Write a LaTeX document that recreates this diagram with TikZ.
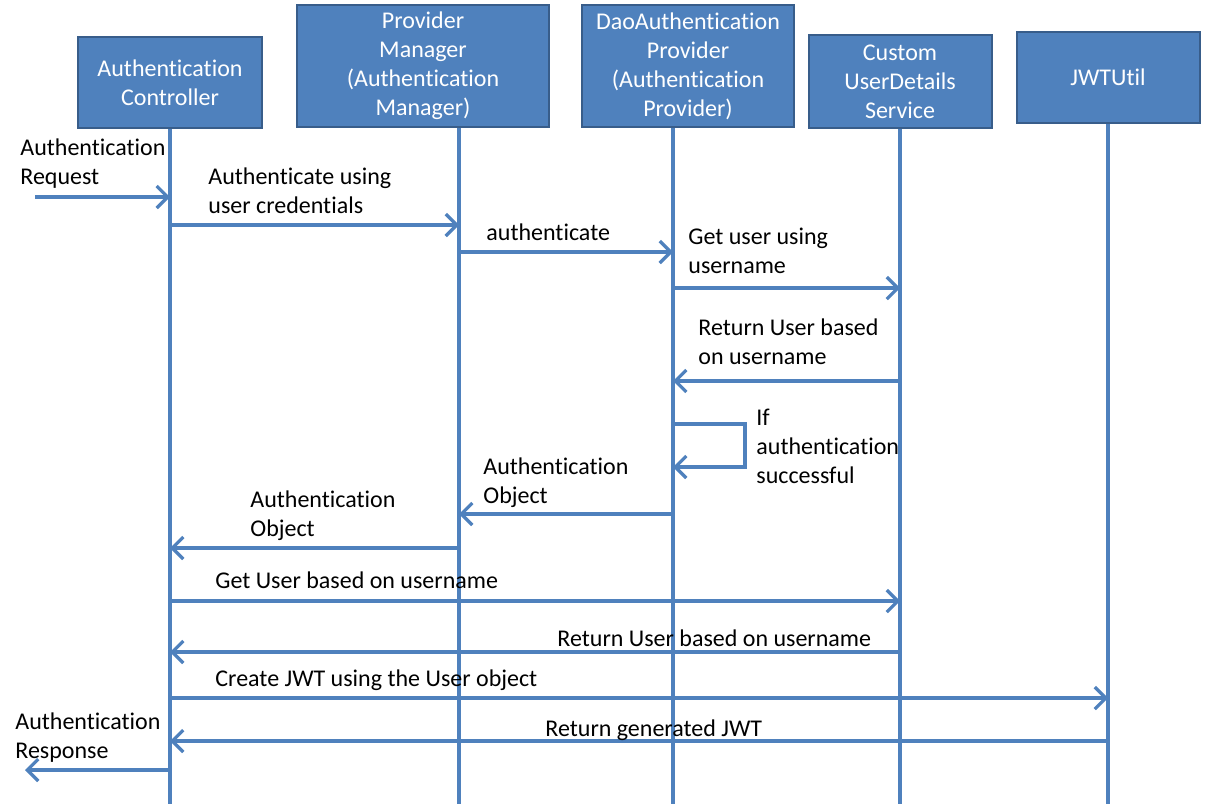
\documentclass[tikz,border=0pt]{standalone}
\usepackage{fontspec}
\setmainfont{Carlito}[Ligatures=CommonOff]
\usetikzlibrary{arrows.meta}
\definecolor{boxblue}{RGB}{79,129,189}
\definecolor{boxedge}{RGB}{56,93,138}

\begin{document}
\begin{tikzpicture}[x=0.5pt, y=-0.5pt,
    font=\fontsize{12}{14.5}\selectfont,
    actor/.style={fill=boxblue, draw=boxedge, line width=1pt, text=white, align=center, inner sep=0pt},
    life/.style={draw=boxblue, line width=1.6pt},
    msg/.style={draw=boxblue, line width=1.6pt, -{Straight Barb[length=5.5pt, width=11pt]}},
    lbl/.style={anchor=base west, align=left, inner sep=0pt}]
    \useasboundingbox (0,0) rectangle (1224,804);

    % participants
    \node[actor, minimum width=92pt, minimum height=45.5pt] (ctrl) at (170,82.5) {Authentication\\Controller};
    \node[actor, minimum width=126pt, minimum height=61pt] (pm) at (423,66) {Provider\\Manager\\(Authentication\\Manager)};
    \node[actor, minimum width=106pt, minimum height=61pt] (dao) at (688,66) {DaoAuthentication\\Provider\\(Authentication\\Provider)};
    \node[actor, minimum width=91.5pt, minimum height=46.5pt] (uds) at (900,81.5) {Custom\\UserDetails\\Service};
    \node[actor, minimum width=91.5pt, minimum height=45.5pt] (jwt) at (1108,77.5) {JWTUtil};

    % lifelines
    \coordinate (cl) at (170,804);
    \coordinate (pl) at (459,804);
    \coordinate (dl) at (673,804);
    \coordinate (ul) at (900,804);
    \coordinate (jl) at (1108,804);
    \draw[life] (ctrl.south) -- (cl);
    \draw[life] (pm.south -| pl) -- (pl);
    \draw[life] (dao.south -| dl) -- (dl);
    \draw[life] (uds.south) -- (ul);
    \draw[life] (jwt.south) -- (jl);

    % messages (label base = last line)
    \coordinate (req) at (35,197);
    \coordinate (resp) at (25,770);
    \draw[msg] (req) -- (cl |- req);
    \node[lbl] (reqlbl) at (20,184) {Authentication\\Request};

    \draw[msg] (cl |- 0,225) -- (pl |- 0,225);
    \node[lbl] (cred) at (208,213) {Authenticate using\\user credentials};

    \draw[msg] (pl |- 0,252) -- (dl |- 0,252);
    \node[lbl] (auth) at (486,240) {authenticate};

    \draw[msg] (dl |- 0,288) -- (ul |- 0,288);
    \node[lbl] (getuser) at (688,273) {Get user using\\username};

    \draw[msg] (ul |- 0,381) -- (dl |- 0,381);
    \node[lbl] (retuser) at (698,364) {Return User based\\on username};

    \draw[msg] (dl |- 0,424) -- ++(72,0) -- ++(0,43) -- (dl |- 0,467);
    \node[lbl] (check) at (756,483) {If\\authentication\\successful};

    \draw[msg] (dl |- 0,514) -- (pl |- 0,514);
    \node[lbl] (obj1) at (483,503) {Authentication\\Object};

    \draw[msg] (pl |- 0,548) -- (cl |- 0,548);
    \node[lbl] (obj2) at (250,536) {Authentication\\Object};

    \draw[msg] (cl |- 0,601) -- (ul |- 0,601);
    \node[lbl] (getuser2) at (215,588) {Get User based on username};

    \draw[msg] (ul |- 0,652) -- (cl |- 0,652);
    \node[lbl] (retuser2) at (557,646) {Return User based on username};

    \draw[msg] (cl |- 0,698) -- (jl |- 0,698);
    \node[lbl] (create) at (215,686) {Create JWT using the User object};

    \draw[msg] (jl |- 0,741) -- (cl |- 0,741);
    \node[lbl] (retjwt) at (545,736) {Return generated JWT};

    \draw[msg] (cl |- resp) -- (resp);
    \node[lbl] (resplbl) at (15,758) {Authentication\\Response};
\end{tikzpicture}
\end{document}
